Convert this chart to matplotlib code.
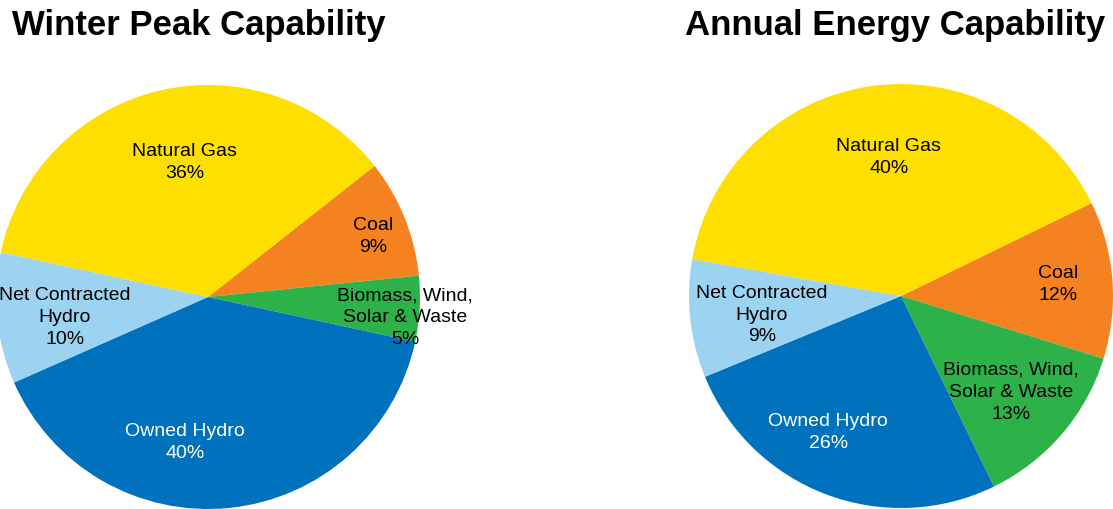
import matplotlib.pyplot as plt

plt.rcParams['font.family'] = ['Liberation Sans', 'DejaVu Sans']

# data (clockwise from the coal slice)
labels = ['Coal', 'Biomass, Wind,\nSolar & Waste', 'Owned Hydro',
          'Net Contracted\nHydro', 'Natural Gas']
peak_pct = [9, 5, 40, 10, 36]
energy_pct = [12, 13, 26, 9, 40]
colors = ['#F58220', '#2DB24A', '#0071BC', '#9CD3F0', '#FFDF00']
text_colors = ['black', 'black', 'white', 'black', 'black']

# label positions (pie units, radius 1)
peak_pos = [(0.78, 0.29), (0.93, -0.094), (-0.11, -0.68), (-0.675, -0.094), (-0.11, 0.64)]
energy_pos = [(0.74, 0.057), (0.52, -0.45), (-0.344, -0.64), (-0.656, -0.085), (-0.057, 0.66)]

W, H = 1113, 510
fig = plt.figure(figsize=(W / 100, H / 100), dpi=100)


def draw(cx, cy, r, vals, pos, start):
    ax = fig.add_axes([(cx - r) / W, (H - cy - r) / H, 2 * r / W, 2 * r / H])
    ax.pie(vals, colors=colors, startangle=start, counterclock=False,
           wedgeprops=dict(linewidth=0), radius=1)
    for lab, v, (x, y), tc in zip(labels, vals, pos, text_colors):
        ax.text(x, y, f'{lab}\n{v}%', ha='center', va='center',
                fontsize=14, color=tc, linespacing=1.38, clip_on=False)
    ax.set_xlim(-1, 1)
    ax.set_ylim(-1, 1)
    ax.set_aspect('equal')
    ax.axis('off')
    return ax


draw(208, 298, 212, peak_pct, peak_pos, 38.2)
draw(901, 297, 212, energy_pct, energy_pos, 26)

fig.text(199 / W, 1 - 25 / H, 'Winter Peak Capability', ha='center', va='center',
         fontsize=25, fontweight='bold')
fig.text(895 / W, 1 - 25 / H, 'Annual Energy Capability', ha='center', va='center',
         fontsize=25, fontweight='bold')

fig.savefig('out.png', dpi=100)
